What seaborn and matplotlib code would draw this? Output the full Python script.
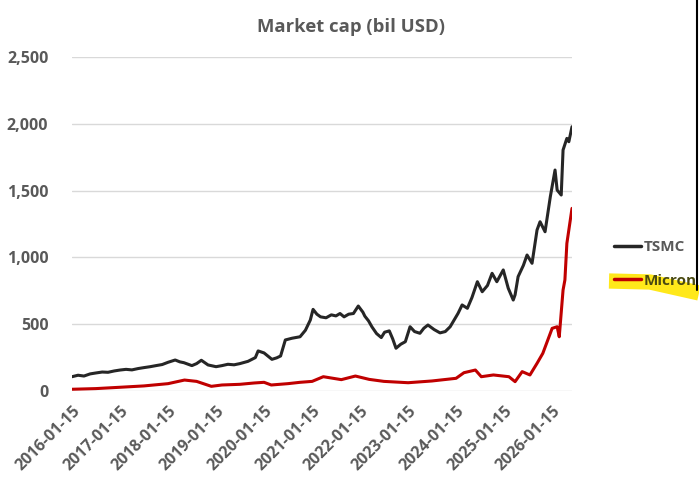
import matplotlib
matplotlib.use("Agg")
import matplotlib.pyplot as plt
from matplotlib.lines import Line2D
import seaborn as sns
import pandas as pd

tsmc_dates = [
    "2016-01-15", "2016-03-01", "2016-04-15", "2016-06-01", "2016-07-15", "2016-09-01",
    "2016-10-15", "2016-12-01", "2017-01-15", "2017-03-01", "2017-04-15", "2017-06-01",
    "2017-07-15", "2017-09-01", "2017-10-15", "2017-12-01", "2018-01-15", "2018-03-10",
    "2018-04-15", "2018-05-15", "2018-07-15", "2018-08-20", "2018-09-25", "2018-11-15",
    "2019-01-15", "2019-03-01", "2019-04-15", "2019-06-01", "2019-07-15", "2019-09-15",
    "2019-11-10", "2019-12-01", "2020-01-15", "2020-03-15", "2020-04-20", "2020-05-20",
    "2020-06-25", "2020-08-15", "2020-10-15", "2020-11-25", "2021-01-01", "2021-01-22",
    "2021-02-20", "2021-03-20", "2021-05-01", "2021-06-10", "2021-07-15", "2021-08-15",
    "2021-09-15", "2021-10-20", "2021-11-25", "2022-01-01", "2022-02-05", "2022-02-20",
    "2022-03-20", "2022-04-15", "2022-05-20", "2022-06-25", "2022-07-20", "2022-08-25",
    "2022-09-20", "2022-10-15", "2022-11-20", "2022-12-25", "2023-01-30", "2023-03-05",
    "2023-04-15", "2023-05-15", "2023-06-15", "2023-08-01", "2023-09-15", "2023-10-25",
    "2023-12-01", "2024-01-30", "2024-03-01", "2024-04-10", "2024-05-15", "2024-06-25",
    "2024-08-01", "2024-09-10", "2024-10-15", "2024-11-20", "2025-01-08", "2025-02-15",
    "2025-03-25", "2025-04-08", "2025-05-01", "2025-06-10", "2025-07-08", "2025-08-15",
    "2025-09-22", "2025-10-15", "2025-11-22", "2026-01-01", "2026-02-06", "2026-02-22",
    "2026-03-25", "2026-04-08", "2026-05-07", "2026-05-22", "2026-06-15",
]
tsmc_values = [
    107, 118, 112, 128, 135, 142,
    140, 150, 157, 162, 158, 168,
    175, 182, 190, 198, 215, 232,
    218, 212, 190, 205, 230, 195,
    182, 190, 200, 196, 205, 222,
    250, 300, 285, 237, 248, 262,
    382, 395, 406, 455, 531, 611,
    575, 555, 548, 570, 562, 580,
    555, 575, 580, 636, 590, 560,
    525, 480, 430, 400, 440, 450,
    390, 320, 350, 369, 481, 445,
    432, 470, 494, 460, 435, 445,
    481, 581, 644, 619, 700, 818,
    743, 790, 881, 818, 906, 769,
    681, 720, 856, 940, 1018, 956,
    1205, 1267, 1192, 1454, 1654, 1504,
    1467, 1804, 1891, 1866, 1978,
]

micron_dates = [
    "2016-01-15", "2016-07-15", "2017-01-15", "2017-07-15", "2018-01-15", "2018-05-20",
    "2018-08-20", "2018-12-10", "2019-03-01", "2019-07-15", "2019-11-01", "2020-01-15",
    "2020-03-10", "2020-07-15", "2020-10-15", "2021-01-15", "2021-04-10", "2021-08-25",
    "2021-12-10", "2022-03-25", "2022-07-15", "2023-01-15", "2023-07-15", "2024-01-15",
    "2024-03-15", "2024-06-10", "2024-07-25", "2024-10-25", "2025-02-20", "2025-04-08",
    "2025-06-01", "2025-07-30", "2025-09-22", "2025-11-05", "2026-01-15", "2026-02-22",
    "2026-03-10", "2026-04-08", "2026-04-22", "2026-05-07", "2026-06-15",
]
micron_values = [
    13, 18, 28, 38, 55, 82,
    72, 35, 45, 50, 60, 65,
    45, 55, 65, 72, 107, 85,
    112, 87, 72, 62, 75, 95,
    137, 157, 107, 120, 107, 70,
    145, 120, 207, 282, 469, 481,
    406, 756, 831, 1105, 1367,
]

series_names = ["TSMC", "Micron"]
series_colors = ["#262626", "#c00000"]
tick_years = [2016, 2017, 2018, 2019, 2020, 2021, 2022, 2023, 2024, 2025, 2026]
y_ticks = [0, 500, 1000, 1500, 2000, 2500]

df = pd.concat([
    pd.DataFrame({"date": pd.to_datetime(tsmc_dates), "value": tsmc_values, "company": "TSMC"}),
    pd.DataFrame({"date": pd.to_datetime(micron_dates), "value": micron_values, "company": "Micron"}),
])

sns.set_theme(style="white")
plt.rcParams["font.family"] = ["Open Sans", "DejaVu Sans"]
text_color = "#595959"

fig = plt.figure(figsize=(6.99, 4.82), dpi=100)
W, H = 699, 482
ax = fig.add_axes([72 / W, 1 - 391 / H, 500 / W, (391 - 57) / H])

sns.lineplot(data=df, x="date", y="value", hue="company", hue_order=series_names,
             palette=series_colors, linewidth=2.2, ax=ax, legend=False)

ax.set_ylim(0, 2500)
ax.set_xlim(pd.Timestamp("2016-01-15"), pd.Timestamp("2026-06-15"))
ax.set_yticks(y_ticks)
ax.set_yticklabels([f"{v:,}" for v in y_ticks], fontsize=11.5, fontweight="bold", color=text_color)
ticks = [pd.Timestamp(f"{y}-01-15") for y in tick_years]
ax.set_xticks(ticks)
ax.set_xticklabels([t.strftime("%Y-%m-%d") for t in ticks], rotation=45, ha="right",
                   rotation_mode="anchor", fontsize=11.5, fontweight="bold", color=text_color)
ax.tick_params(axis="y", length=0, pad=17)
ax.tick_params(axis="x", length=0, pad=9)
ax.grid(axis="y", color="#d9d9d9", linewidth=1)
ax.grid(axis="x", visible=False)
for s in ax.spines.values():
    s.set_visible(False)
ax.set_xlabel("")
ax.set_ylabel("")

fig.text(351 / W, 1 - 27 / H, "Market cap (bil USD)", ha="center", va="center",
         fontsize=13.3, fontweight="bold", color=text_color)

# yellow highlighter stroke behind the Micron legend entry
fig.add_artist(Line2D([609 / W, 650 / W, 699 / W], [1 - 281 / H, 1 - 282 / H, 1 - 293 / H],
                      transform=fig.transFigure, color="#ffe81a", linewidth=11,
                      solid_capstyle="butt", solid_joinstyle="round", zorder=0))

handles = [Line2D([0], [0], color=c, linewidth=2.5) for c in series_colors]
leg = fig.legend(handles, series_names, loc="center left",
                 bbox_to_anchor=(600 / W, 1 - 264 / H), frameon=False,
                 prop={"weight": "bold", "size": 11}, handlelength=1.8,
                 handletextpad=0.15, labelspacing=1.25)
for t, c in zip(leg.get_texts(), [text_color, "#4a4a12"]):
    t.set_color(c)

# right edge border of the screenshot
fig.add_artist(Line2D([697 / W, 697 / W], [1.0, 1 - 290 / H], transform=fig.transFigure,
                      color="black", linewidth=1.5))

fig.savefig("out.png", dpi=100)
